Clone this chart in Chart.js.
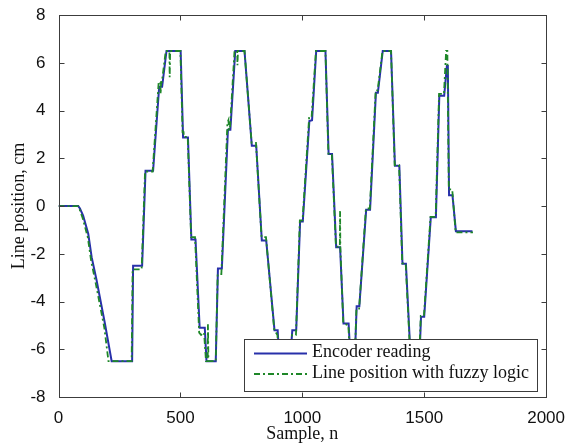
<!DOCTYPE html>
<html>
<head>
<meta charset="utf-8">
<script src="https://cdn.jsdelivr.net/npm/chart.js@4.4.1/dist/chart.umd.min.js"></script>
<style>
  html, body { margin: 0; padding: 0; background: #fff; }
  #wrap { width: 568px; height: 446px; }
</style>
</head>
<body>
<div id="wrap"><canvas id="posChart"></canvas></div>
<script>
// Encoder reading (sample, cm)
const encSample = [0, 81, 88, 101, 122, 136, 156, 190, 218, 302, 306, 343, 357, 388, 413, 425, 443, 501, 511, 531, 545, 562, 579, 600, 607, 645, 654, 670, 695, 705, 725, 763, 793, 811, 834, 852, 886, 899, 906, 950, 959, 975, 991, 1002, 1029, 1040, 1057, 1095, 1108, 1122, 1139, 1155, 1169, 1190, 1198, 1215, 1223, 1234, 1262, 1278, 1302, 1310, 1330, 1364, 1380, 1398, 1411, 1425, 1445, 1480, 1487, 1500, 1527, 1548, 1562, 1582, 1593, 1597, 1602, 1616, 1630, 1698];
const encPos = [0, 0, -0.1, -0.4, -1.16, -2.14, -3.1, -4.9, -6.5, -6.5, -2.5, -2.5, 1.48, 1.48, 5.0, 5.0, 6.5, 6.5, 2.87, 2.87, -1.4, -1.4, -5.1, -5.1, -6.5, -6.5, -2.62, -2.62, 3.2, 3.2, 6.5, 6.5, 2.53, 2.53, -1.44, -1.44, -5.2, -5.2, -6.5, -6.5, -5.2, -5.2, -0.65, -0.65, 3.57, 3.6, 6.5, 6.5, 2.18, 2.18, -1.72, -1.72, -4.92, -4.92, -6.5, -6.5, -4.2, -4.2, -0.15, -0.15, 4.75, 4.75, 6.5, 6.5, 1.69, 1.69, -2.42, -2.42, -6.5, -6.5, -4.64, -4.64, -0.47, -0.47, 4.62, 4.62, 5.87, 5.87, 0.45, 0.45, -1.05, -1.05];

// Line position with fuzzy logic (sample, cm)
const fuzSample = [0, 80, 87, 99, 120, 134, 154, 188, 205, 300, 304, 341, 355, 386, 411, 418, 419, 421, 424, 440, 455, 456, 458, 500, 509, 513, 514, 530, 544, 560, 577, 585, 597, 605, 612, 613, 615, 645, 653, 668, 693, 697, 700, 703, 722, 733, 734, 736, 763, 792, 810, 833, 851, 885, 898, 905, 950, 958, 974, 990, 1001, 1028, 1038, 1056, 1095, 1107, 1121, 1138, 1154, 1155, 1156, 1168, 1189, 1196, 1215, 1222, 1233, 1261, 1277, 1301, 1309, 1329, 1364, 1379, 1397, 1410, 1424, 1444, 1479, 1486, 1499, 1526, 1547, 1561, 1581, 1590, 1595, 1601, 1615, 1629, 1700];
const fuzPos = [0, 0, -0.15, -0.5, -1.3, -2.3, -3.3, -5.1, -6.5, -6.5, -2.65, -2.65, 1.45, 1.45, 5.2, 5.2, 4.7, 5.2, 5.2, 6.5, 6.5, 5.4, 6.5, 6.5, 3.1, 3.1, 2.9, 2.9, -1.3, -1.3, -5.3, -5.4, -5.3, -6.5, -6.5, -4.95, -6.5, -6.5, -2.85, -2.85, 3.5, 3.6, 3.2, 3.2, 6.5, 6.5, 5.9, 6.5, 6.5, 2.65, 2.65, -1.3, -1.3, -5.2, -5.4, -6.5, -6.5, -5.4, -5.4, -0.6, -0.6, 3.7, 3.7, 6.5, 6.5, 2.2, 2.2, -1.7, -1.7, -0.2, -1.7, -4.9, -5.0, -6.5, -6.5, -4.3, -4.3, -0.1, -0.1, 4.85, 4.85, 6.5, 6.5, 1.72, 1.72, -2.4, -2.4, -6.5, -6.5, -4.6, -4.6, -0.45, -0.45, 4.7, 4.7, 6.5, 6.5, 0.7, 0.7, -1.1, -1.1];

const xTicks = [0, 500, 1000, 1500, 2000];
const yTicks = [-8, -6, -4, -2, 0, 2, 4, 6, 8];

const blue = 'rgb(40, 48, 170)';
const green = 'rgb(30, 135, 40)';
const frameColor = '#3c3c3c';
const dashDot = [6, 3, 2, 3];

function toPoints(xs, ys) {
    return xs.map((v, i) => ({ x: v, y: ys[i] }));
}

// MATLAB-style box, inward ticks and legend inside the axes
const axesFrame = {
    id: 'axesFrame',
    afterDatasetsDraw(chart) {
        const { ctx, chartArea: a, scales: { x, y } } = chart;
        ctx.save();

        // legend box (covers the curves under it)
        const lx = 244.5, ly = 339.5, lw = 293, lh = 52;
        ctx.fillStyle = '#fff';
        ctx.fillRect(lx, ly, lw, lh);
        ctx.strokeStyle = frameColor;
        ctx.lineWidth = 1;
        ctx.strokeRect(lx, ly, lw, lh);

        ctx.lineWidth = 2;
        ctx.strokeStyle = blue;
        ctx.beginPath();
        ctx.moveTo(254, 353.5);
        ctx.lineTo(307, 353.5);
        ctx.stroke();

        ctx.strokeStyle = green;
        ctx.setLineDash(dashDot);
        ctx.beginPath();
        ctx.moveTo(254, 374);
        ctx.lineTo(307, 374);
        ctx.stroke();
        ctx.setLineDash([]);

        ctx.fillStyle = '#111';
        ctx.font = '18px "Liberation Serif", "DejaVu Serif", serif';
        ctx.textBaseline = 'middle';
        ctx.textAlign = 'left';
        ctx.fillText('Encoder reading', 312, 352);
        ctx.fillText('Line position with fuzzy logic', 312, 373);

        // axes box
        ctx.strokeStyle = frameColor;
        ctx.lineWidth = 1;
        const L = Math.round(a.left) + 0.5, R = Math.round(a.right) + 0.5;
        const T = Math.round(a.top) + 0.5, B = Math.round(a.bottom) + 0.5;
        ctx.strokeRect(L, T, R - L, B - T);

        ctx.beginPath();
        xTicks.forEach(v => {
            const px = Math.round(x.getPixelForValue(v)) + 0.5;
            ctx.moveTo(px, B); ctx.lineTo(px, B - 5);
            ctx.moveTo(px, T); ctx.lineTo(px, T + 5);
        });
        yTicks.forEach(v => {
            const py = Math.round(y.getPixelForValue(v)) + 0.5;
            ctx.moveTo(L, py); ctx.lineTo(L + 5, py);
            ctx.moveTo(R, py); ctx.lineTo(R - 5, py);
        });
        ctx.stroke();
        ctx.restore();
    }
};

const tickFont = { family: '"Liberation Sans", Arial, sans-serif', size: 17 };
const titleFont = { family: '"Liberation Serif", "Times New Roman", serif', size: 18 };

const config = {
    type: 'line',
    data: {
        datasets: [{
            label: 'Encoder reading',
            data: toPoints(encSample, encPos),
            borderColor: blue,
            borderWidth: 2,
            pointRadius: 0,
            tension: 0,
            order: 2
        }, {
            label: 'Line position with fuzzy logic',
            data: toPoints(fuzSample, fuzPos),
            borderColor: green,
            borderWidth: 1.8,
            borderDash: dashDot,
            pointRadius: 0,
            tension: 0,
            order: 1
        }]
    },
    plugins: [axesFrame],
    options: {
        responsive: true,
        maintainAspectRatio: false,
        animation: false,
        layout: {
            padding: { top: 14, right: 21, left: 0, bottom: 0 }
        },
        plugins: {
            legend: { display: false },
            tooltip: { enabled: false }
        },
        scales: {
            x: {
                type: 'linear',
                min: 0,
                max: 2000,
                afterFit: s => { s.height = 49; },
                afterBuildTicks: s => { s.ticks = xTicks.map(v => ({ value: v })); },
                grid: { display: false },
                border: { display: false },
                ticks: {
                    font: tickFont,
                    color: '#111',
                    padding: 3,
                    maxRotation: 0,
                    callback: v => String(v)
                },
                title: {
                    display: true,
                    text: 'Sample, n',
                    font: titleFont,
                    color: '#111',
                    padding: { top: 0, bottom: 1 }
                }
            },
            y: {
                type: 'linear',
                min: -8,
                max: 8,
                afterFit: s => { s.width = 58.5; },
                afterBuildTicks: s => { s.ticks = yTicks.map(v => ({ value: v })); },
                grid: { display: false },
                border: { display: false },
                ticks: {
                    font: tickFont,
                    color: '#111',
                    padding: 5,
                    callback: v => String(v)
                },
                title: {
                    display: true,
                    text: 'Line position, cm',
                    font: titleFont,
                    color: '#111',
                    padding: { top: 8, bottom: 0 }
                }
            }
        }
    }
};

const posChart = new Chart(document.getElementById('posChart'), config);
</script>
</body>
</html>
